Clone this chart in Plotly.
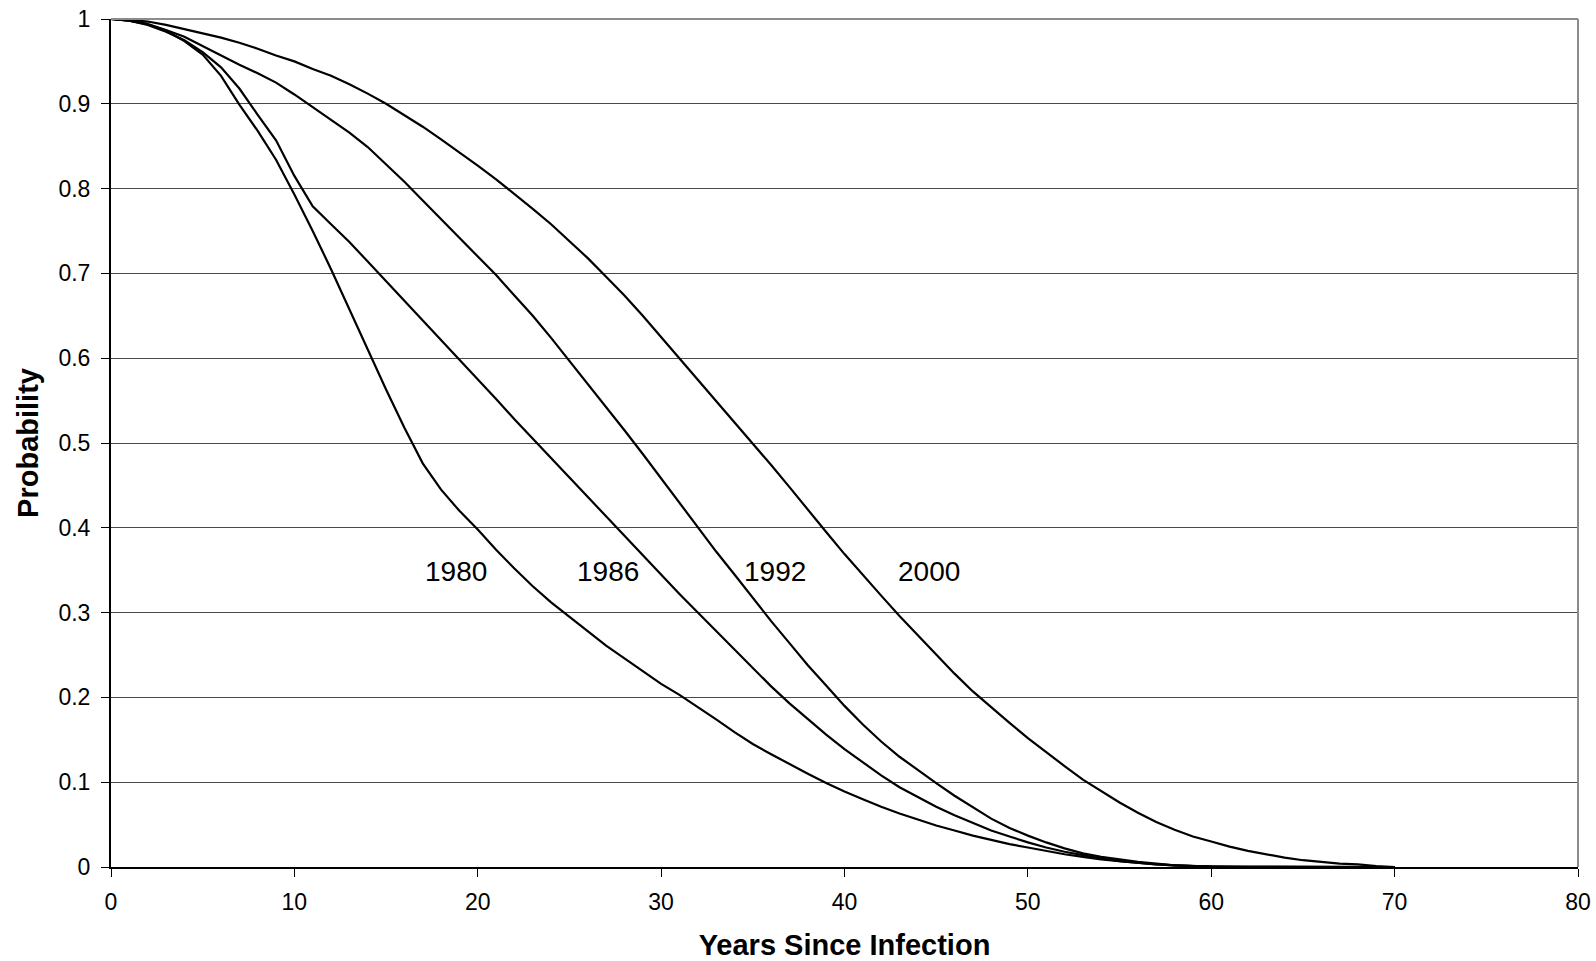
import plotly.graph_objects as go

years = list(range(0, 71))

p1980 = [1.000, 0.998, 0.994, 0.986, 0.974, 0.958, 0.933, 0.899, 0.868, 0.834,
         0.793, 0.750, 0.705, 0.657, 0.610, 0.563, 0.518, 0.476, 0.445, 0.420,
         0.398, 0.374, 0.352, 0.331, 0.312, 0.295, 0.278, 0.261, 0.246, 0.231,
         0.216, 0.203, 0.189, 0.174, 0.159, 0.145, 0.133, 0.121, 0.110, 0.099,
         0.089, 0.080, 0.071, 0.063, 0.056, 0.049, 0.043, 0.037, 0.032, 0.027,
         0.023, 0.019, 0.015, 0.012, 0.009, 0.007, 0.005, 0.003, 0.002, 0.001,
         0.0005, 0.0003, 0.0002, 0.0001, 0, 0, 0, 0, 0, 0, 0]

p1986 = [1.000, 0.998, 0.993, 0.985, 0.975, 0.961, 0.943, 0.918, 0.887, 0.857,
         0.815, 0.779, 0.758, 0.737, 0.714, 0.691, 0.668, 0.645, 0.622, 0.598,
         0.575, 0.552, 0.528, 0.505, 0.482, 0.459, 0.437, 0.414, 0.391, 0.368,
         0.345, 0.322, 0.300, 0.278, 0.256, 0.235, 0.213, 0.193, 0.174, 0.156,
         0.139, 0.123, 0.108, 0.094, 0.082, 0.071, 0.061, 0.052, 0.043, 0.036,
         0.029, 0.023, 0.018, 0.014, 0.010, 0.007, 0.005, 0.003, 0.002, 0.001,
         0.0005, 0.0003, 0.0002, 0.0001, 0, 0, 0, 0, 0, 0, 0]

p1992 = [1.000, 0.998, 0.994, 0.987, 0.979, 0.968, 0.957, 0.946, 0.936, 0.925,
         0.911, 0.896, 0.881, 0.866, 0.849, 0.829, 0.808, 0.786, 0.764, 0.742,
         0.720, 0.698, 0.674, 0.650, 0.624, 0.597, 0.570, 0.543, 0.515, 0.487,
         0.458, 0.430, 0.400, 0.372, 0.345, 0.317, 0.290, 0.264, 0.238, 0.214,
         0.190, 0.168, 0.148, 0.130, 0.114, 0.099, 0.084, 0.070, 0.057, 0.046,
         0.037, 0.029, 0.022, 0.016, 0.012, 0.009, 0.006, 0.004, 0.002, 0.001,
         0.0005, 0.0003, 0.0002, 0.0001, 0, 0, 0, 0, 0, 0, 0]

p2000 = [1.000, 0.999, 0.997, 0.993, 0.988, 0.983, 0.978, 0.972, 0.965, 0.957,
         0.950, 0.941, 0.933, 0.923, 0.912, 0.900, 0.887, 0.873, 0.858, 0.843,
         0.827, 0.811, 0.794, 0.776, 0.758, 0.738, 0.718, 0.696, 0.674, 0.650,
         0.625, 0.600, 0.575, 0.550, 0.525, 0.500, 0.474, 0.448, 0.421, 0.395,
         0.369, 0.344, 0.320, 0.296, 0.273, 0.250, 0.228, 0.207, 0.188, 0.170,
         0.152, 0.135, 0.119, 0.103, 0.089, 0.076, 0.064, 0.053, 0.044, 0.036,
         0.030, 0.024, 0.019, 0.015, 0.011, 0.008, 0.006, 0.004, 0.003, 0.001,
         0.000]

series = {"1980": p1980, "1986": p1986, "1992": p1992, "2000": p2000}

label_names = ["1980", "1986", "1992", "2000"]
label_x = [18.8, 27.1, 36.2, 44.6]
label_y = [0.349, 0.349, 0.349, 0.349]

x_ticks = [0, 10, 20, 30, 40, 50, 60, 70, 80]
y_ticks = [0, 0.1, 0.2, 0.3, 0.4, 0.5, 0.6, 0.7, 0.8, 0.9, 1]
y_tick_text = ["0", "0.1", "0.2", "0.3", "0.4", "0.5", "0.6", "0.7", "0.8", "0.9", "1"]

FONT = "Liberation Sans, Arial, sans-serif"

fig = go.Figure()
for name, vals in series.items():
    fig.add_trace(go.Scatter(x=years, y=vals, mode="lines", name=name,
                             line=dict(color="black", width=2.2),
                             showlegend=False, hoverinfo="skip"))

for t, xx, yy in zip(label_names, label_x, label_y):
    fig.add_annotation(x=xx, y=yy, text=t, showarrow=False,
                       font=dict(family=FONT, size=28, color="black"),
                       xanchor="center", yanchor="middle")

# top and right plot-area border in gray
fig.add_shape(type="line", xref="paper", yref="paper", x0=0, x1=1, y0=1, y1=1,
              line=dict(color="#8c8c8c", width=2), layer="above")
fig.add_shape(type="line", xref="paper", yref="paper", x0=1, x1=1, y0=0, y1=1,
              line=dict(color="#8c8c8c", width=2), layer="above")

fig.update_layout(
    width=1596, height=961,
    margin=dict(l=111, r=18, t=19, b=94, autoexpand=False),
    paper_bgcolor="white", plot_bgcolor="white",
    font=dict(family=FONT, size=23, color="black"),
    xaxis=dict(range=[0, 80], tickvals=x_ticks, ticks="outside", ticklen=8,
               tickcolor="black", tickwidth=1, showgrid=False, zeroline=False,
               showline=True, linecolor="black", linewidth=2, automargin=False,
               tickfont=dict(family=FONT, size=23, color="black"),
               ticklabelstandoff=5,
               title=dict(text="<b>Years Since Infection</b>", standoff=23,
                          font=dict(family=FONT, size=29, color="black"))),
    yaxis=dict(range=[0, 1], tickvals=y_ticks, ticktext=y_tick_text,
               ticks="outside", ticklen=8, tickcolor="black", tickwidth=1,
               showgrid=True, gridcolor="#4a4a4a", gridwidth=1, zeroline=False,
               showline=True, linecolor="black", linewidth=2, automargin=False,
               tickfont=dict(family=FONT, size=23, color="black"),
               ticklabelstandoff=6,
               title=dict(text="<b>Probability</b>", standoff=11,
                          font=dict(family=FONT, size=29, color="black"))),
)

fig.write_html("out.html", config={"displayModeBar": False},
               post_script="document.body.style.margin='0';document.body.style.overflow='hidden';")
